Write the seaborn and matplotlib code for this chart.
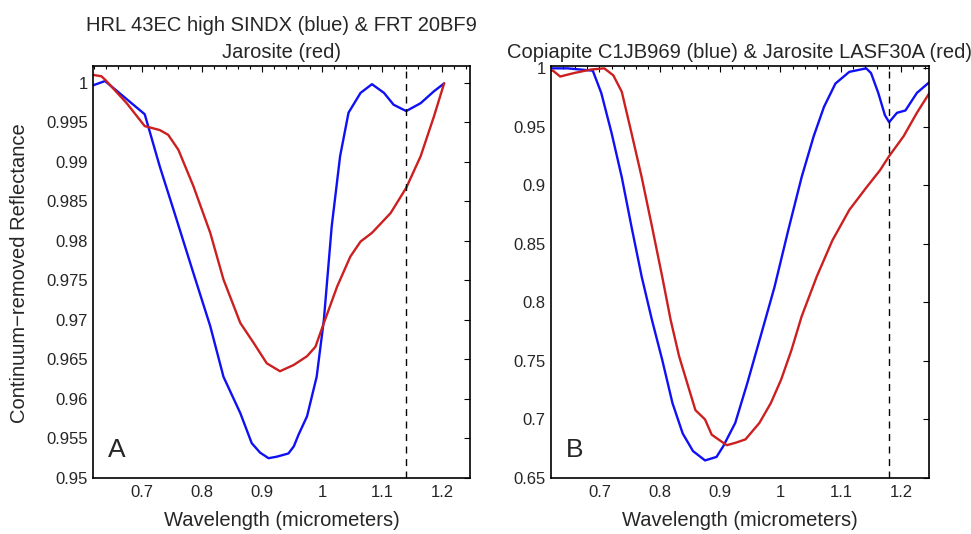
import matplotlib
matplotlib.use("Agg")
import matplotlib.pyplot as plt
import numpy as np
import pandas as pd
import seaborn as sns
from matplotlib.ticker import AutoMinorLocator, FuncFormatter, MultipleLocator

# Panel A: HRL 43EC (blue) and FRT 20BF9 jarosite (red)
a_blue_wl = [0.617, 0.639, 0.705, 0.730, 0.753, 0.786, 0.814, 0.836, 0.864, 0.883,
             0.897, 0.911, 0.925, 0.944, 0.953, 0.961, 0.975, 0.991, 1.003, 1.016,
             1.030, 1.044, 1.064, 1.083, 1.103, 1.119, 1.140, 1.164, 1.186, 1.203]
a_blue_refl = [0.9996, 1.0002, 0.9960, 0.9894, 0.9839, 0.9759, 0.9692, 0.9628, 0.9582, 0.9544,
               0.9532, 0.9525, 0.9527, 0.9531, 0.9540, 0.9555, 0.9578, 0.9628, 0.9700, 0.9818,
               0.9907, 0.9962, 0.9987, 0.9998, 0.9987, 0.9972, 0.9964, 0.9974, 0.9989, 0.9999]
a_red_wl = [0.617, 0.633, 0.640, 0.675, 0.705, 0.730, 0.744, 0.761, 0.786, 0.814,
            0.836, 0.864, 0.886, 0.908, 0.930, 0.953, 0.975, 0.989, 1.003, 1.025,
            1.047, 1.064, 1.083, 1.114, 1.140, 1.164, 1.186, 1.203]
a_red_refl = [1.0010, 1.0008, 1.0003, 0.9974, 0.9945, 0.9940, 0.9934, 0.9915, 0.9869, 0.9810,
              0.9751, 0.9696, 0.9671, 0.9645, 0.9635, 0.9643, 0.9654, 0.9666, 0.9696, 0.9742,
              0.9780, 0.9799, 0.9810, 0.9835, 0.9867, 0.9907, 0.9957, 0.9999]

# Panel B: copiapite C1JB969 (blue) and jarosite LASF30A (red)
b_blue_wl = [0.614, 0.647, 0.689, 0.703, 0.720, 0.737, 0.753, 0.770, 0.787, 0.804,
             0.821, 0.838, 0.855, 0.875, 0.894, 0.905, 0.925, 0.945, 0.967, 0.990,
             1.013, 1.035, 1.055, 1.072, 1.091, 1.114, 1.142, 1.150, 1.162, 1.173,
             1.180, 1.193, 1.207, 1.226, 1.253]
b_blue_refl = [1.000, 1.000, 0.998, 0.979, 0.945, 0.907, 0.865, 0.822, 0.785, 0.751,
               0.714, 0.688, 0.673, 0.665, 0.668, 0.677, 0.697, 0.731, 0.771, 0.813,
               0.862, 0.907, 0.942, 0.967, 0.987, 0.997, 1.000, 0.996, 0.979, 0.960,
               0.954, 0.962, 0.964, 0.979, 0.991]
b_red_wl = [0.614, 0.623, 0.635, 0.658, 0.686, 0.708, 0.723, 0.737, 0.753, 0.770,
            0.787, 0.804, 0.818, 0.832, 0.849, 0.859, 0.875, 0.886, 0.897, 0.911,
            0.925, 0.942, 0.965, 0.984, 1.001, 1.018, 1.035, 1.060, 1.086, 1.114,
            1.142, 1.165, 1.180, 1.204, 1.226, 1.253]
b_red_refl = [0.998, 0.998, 0.993, 0.996, 0.999, 1.000, 0.994, 0.980, 0.945, 0.907,
              0.865, 0.822, 0.785, 0.754, 0.725, 0.708, 0.700, 0.687, 0.683, 0.678,
              0.680, 0.683, 0.697, 0.714, 0.734, 0.759, 0.788, 0.822, 0.853, 0.879,
              0.898, 0.913, 0.925, 0.942, 0.962, 0.984]

BLUE = "#1010f5"
RED = "#cc2020"

sns.set_theme(style="white")
plt.rcParams["font.family"] = ["Liberation Sans", "DejaVu Sans"]
plt.rcParams["axes.linewidth"] = 1.2


def fmt(v, pos):
    return f"{v:g}"


def draw_panel(ax, blue_wl, blue_refl, red_wl, red_refl, dash_x, ylim, ystep, letter, title):
    blue = pd.DataFrame({"wl": blue_wl, "refl": blue_refl})
    red = pd.DataFrame({"wl": red_wl, "refl": red_refl})
    sns.lineplot(data=blue, x="wl", y="refl", ax=ax, color=BLUE, lw=1.7,
                 sort=False, estimator=None)
    sns.lineplot(data=red, x="wl", y="refl", ax=ax, color=RED, lw=1.7,
                 sort=False, estimator=None)
    ax.axvline(dash_x, color="black", lw=1, ls=(0, (5, 4)))
    ax.set_xlim(0.619, 1.246)
    ax.set_ylim(*ylim)
    ax.xaxis.set_major_locator(MultipleLocator(0.1))
    ax.xaxis.set_minor_locator(AutoMinorLocator(5))
    ax.yaxis.set_major_locator(MultipleLocator(ystep))
    ax.xaxis.set_major_formatter(FuncFormatter(fmt))
    ax.yaxis.set_major_formatter(FuncFormatter(fmt))
    ax.tick_params(which="both", direction="in", top=True, right=True,
                   labelsize=12, color="black")
    ax.tick_params(which="major", length=4, width=0.8)
    ax.tick_params(which="minor", length=2.5, width=0.8)
    ax.tick_params(axis="x", pad=5)
    for s in ax.spines.values():
        s.set_color("black")
    ax.set_xlabel("Wavelength (micrometers)", fontsize=14.5)
    ax.xaxis.set_label_coords(0.5, -0.08)
    ax.set_ylabel("")
    ax.text(0.04, 0.04, letter, transform=ax.transAxes, fontsize=19,
            ha="left", va="bottom")
    ax.set_title(title, fontsize=14.5, pad=6, linespacing=1.5)


fig = plt.figure(figsize=(9.71, 5.34), dpi=100)
ax_a = fig.add_axes([0.0958, 0.1049, 0.3882, 0.7715])
ax_b = fig.add_axes([0.5670, 0.1049, 0.3897, 0.7715])

draw_panel(ax_a, a_blue_wl, a_blue_refl, a_red_wl, a_red_refl, 1.14,
           (0.95, 1.0021), 0.005, "A",
           "HRL 43EC high SINDX (blue) & FRT 20BF9\nJarosite (red)")
draw_panel(ax_b, b_blue_wl, b_blue_refl, b_red_wl, b_red_refl, 1.18,
           (0.65, 1.002), 0.05, "B",
           "Copiapite C1JB969 (blue) & Jarosite LASF30A (red)")

fig.text(20 / 971, 1 - 273 / 534, "Continuum\u2212removed Reflectance",
         rotation=90, ha="center", va="center", fontsize=14.5)

fig.savefig("out.png", dpi=100)
